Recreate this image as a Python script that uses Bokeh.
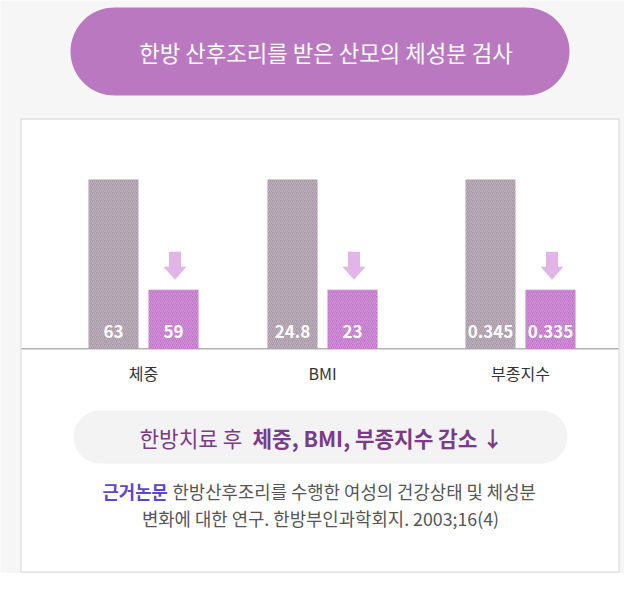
import numpy as np
from bokeh.plotting import figure
from bokeh.models import Range1d, ColumnDataSource
from bokeh.core.properties import value
from bokeh.embed import file_html
from bokeh.resources import INLINE

# ---------------- data ----------------
categories = ["체중", "BMI", "부종지수"]
before_labels = ["63", "24.8", "0.345"]
after_labels = ["59", "23", "0.335"]
# relative display heights of the bars as drawn in the infographic
before_height = [100, 100, 100]
after_height = [35, 35, 35]

title_text = "한방 산후조리를 받은 산모의 체성분 검사"
summary_normal = "한방치료 후 "
summary_bold = "체중, BMI, 부종지수 감소 ↓"
ref_bold = "근거논문"
ref_line1 = "한방산후조리를 수행한 여성의 건강상태 및 체성분"
ref_line2 = "변화에 대한 연구. 한방부인과학회지. 2003;16(4)"

# ---------------- layout ----------------
W, H = 624, 573
FONT = "Noto Sans CJK KR"


def Y(ry):
    return H - ry


group_centers = [143, 322, 520]
bar_w = 50
gap = 10
before_x = [c - gap / 2 - bar_w / 2 for c in group_centers]
after_x = [c + gap / 2 + bar_w / 2 for c in group_centers]

base_ry = 348.5
top_ry = 179.0
k = (base_ry - top_ry) / 100.0  # px per unit

p = figure(width=W, height=H, output_backend="svg", toolbar_location=None,
           x_range=Range1d(0, W), y_range=Range1d(0, H),
           min_border=0)
p.extra_y_ranges = {"val": Range1d(-(H - base_ry) / k, base_ry / k)}
p.axis.visible = False
p.grid.visible = False
p.outline_line_color = None
p.background_fill_color = "#f6f6f6"
p.border_fill_color = "#f6f6f6"


def pill(x0, x1, y0, y1, n=40):
    r = (y1 - y0) / 2.0
    cy = (y0 + y1) / 2.0
    a1 = np.linspace(np.pi / 2, 3 * np.pi / 2, n)
    a2 = np.linspace(-np.pi / 2, np.pi / 2, n)
    xs = list(x0 + r + r * np.cos(a1)) + list(x1 - r + r * np.cos(a2))
    ys = list(Y(cy) + r * np.sin(a1)) + list(Y(cy) + r * np.sin(a2))
    return xs, ys


# title pill
xs, ys = pill(70, 569, 7, 95)
p.patch(xs, ys, fill_color="#b978c0", line_color=None)
p.text(x=[325.5], y=[Y(51.5)], text=[title_text], text_font=value(FONT),
       text_font_size="22.3px", text_color="white", text_align="center",
       text_baseline="middle")

# white box
p.quad(left=[20.5], right=[618.5], top=[Y(118.5)], bottom=[Y(571.5)],
       fill_color="white", line_color="#d6d6d6", line_width=1)

# baseline
p.segment(x0=[21], x1=[618], y0=[Y(348.3)], y1=[Y(348.3)],
          line_color="#b3b3b3", line_width=1.5)

# bars
src_b = ColumnDataSource(dict(x=before_x, top=before_height, lab=before_labels))
src_a = ColumnDataSource(dict(x=after_x, top=after_height, lab=after_labels))
p.vbar(x="x", top="top", bottom=0, width=bar_w, source=src_b, y_range_name="val",
       fill_color="#a797a7", line_color=None,
       hatch_pattern="/", hatch_color="white", hatch_alpha=0.28,
       hatch_scale=4, hatch_weight=1)
p.vbar(x="x", top="top", bottom=0, width=bar_w, source=src_a, y_range_name="val",
       fill_color="#c172c9", line_color=None,
       hatch_pattern="/", hatch_color="white", hatch_alpha=0.28,
       hatch_scale=4, hatch_weight=1)

# value labels
for src in (src_b, src_a):
    p.text(x="x", y=Y(330.5), text="lab", source=src, text_font=value(FONT),
           text_font_size="17px", text_font_style="bold", text_color="white",
           text_align="center", text_baseline="middle")

# arrows above "after" bars
arr_xs, arr_ys = [], []
for cx, h in zip(after_x, after_height):
    top_bar = base_ry - h * k
    bot = top_bar - 10
    head_top = bot - 13
    top = bot - 28
    cx = cx + 1.5
    arr_xs.append([cx - 6, cx + 6, cx + 6, cx + 11.5, cx, cx - 11.5, cx - 6])
    arr_ys.append([Y(top), Y(top), Y(head_top), Y(head_top), Y(bot), Y(head_top), Y(head_top)])
p.patches(arr_xs, arr_ys, fill_color="#e2b5e8", line_color=None)

# category labels
p.text(x=group_centers, y=[Y(372.5)] * 3, text=categories, text_font=value(FONT),
       text_font_size="16px", text_color="#333333", text_align="center",
       text_baseline="middle")

# summary pill
xs, ys = pill(73, 567, 410, 463)
p.patch(xs, ys, fill_color="#f4f3f4", line_color=None)
p.text(x=[139], y=[Y(436.5)], text=[summary_normal], text_font=value(FONT),
       text_font_size="21.3px", text_color="#7a3b87", text_align="left",
       text_baseline="middle")
p.text(x=[252], y=[Y(436.5)], text=[summary_bold], text_font=value(FONT),
       text_font_size="21.3px", text_font_style="bold", text_color="#7a3b87",
       text_align="left", text_baseline="middle")

# reference text
p.text(x=[102], y=[Y(490)], text=[ref_bold], text_font=value(FONT),
       text_font_size="17.8px", text_font_style="bold", text_color="#5d47c4",
       text_align="left", text_baseline="middle")
p.text(x=[172], y=[Y(490)], text=[ref_line1], text_font=value(FONT),
       text_font_size="17.8px", text_color="#555555", text_align="left",
       text_baseline="middle")
p.text(x=[320], y=[Y(517)], text=[ref_line2], text_font=value(FONT),
       text_font_size="17.8px", text_color="#555555", text_align="center",
       text_baseline="middle")

open("out.html", "w").write(file_html(p, INLINE))
